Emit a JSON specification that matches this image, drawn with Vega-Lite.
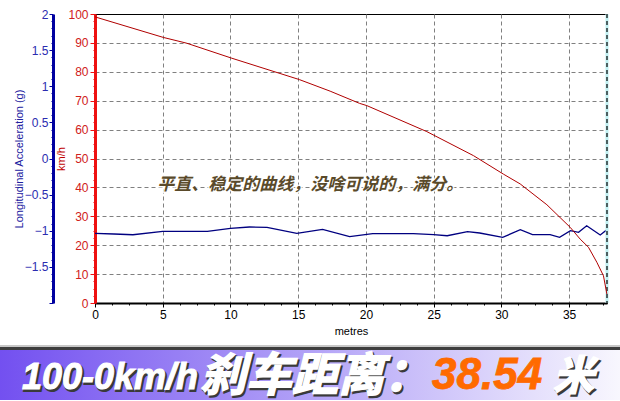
{
  "$schema": "https://vega.github.io/schema/vega-lite/v6.json",
  "background": "white",
  "padding": {"left": 0, "top": 7, "right": 0, "bottom": 0},
  "bounds": "flush",
  "spacing": 42,
  "config": {"view": {"stroke": null}, "font": "Liberation Sans"},
  "vconcat": [
    {
      "width": 512,
      "height": 289,
      "view": {"stroke": "#000000", "strokeWidth": 1},
      "encoding": {
        "x": {
          "field": "m",
          "type": "quantitative",
          "scale": {"domain": [0, 37.8], "nice": false, "zero": true},
          "axis": {
            "title": "metres",
            "titleFont": "Liberation Sans",
            "titleFontSize": 11,
            "titleFontWeight": "normal",
            "titleColor": "#000000",
            "titlePadding": 5,
            "values": [0, 1.25, 2.5, 3.75, 5, 6.25, 7.5, 8.75, 10, 11.25, 12.5, 13.75, 15, 16.25, 17.5, 18.75, 20, 21.25, 22.5, 23.75, 25, 26.25, 27.5, 28.75, 30, 31.25, 32.5, 33.75, 35, 36.25, 37.5],
            "format": "d",
            "labelExpr": "datum.value % 5 === 0 ? datum.label : ''",
            "labelFlush": false,
            "labelOverlap": false,
            "labelFont": "Liberation Sans",
            "labelFontSize": 12,
            "labelColor": "#000000",
            "labelPadding": 2,
            "domainColor": "#000000",
            "domainWidth": 2,
            "tickColor": "#000000",
            "tickSize": {"condition": {"test": "datum.value % 5 === 0", "value": 4}, "value": 2},
            "grid": true,
            "gridColor": "#808080",
            "gridDash": [4, 3],
            "gridWidth": 1,
            "gridOpacity": {"condition": {"test": "datum.value % 5 === 0 && datum.value > 0", "value": 1}, "value": 0}
          }
        }
      },
      "layer": [
        {
          "layer": [
            {
              "data": {
                "values": [
                  {"m": 0, "g": -1.035},
                  {"m": 1.4, "g": -1.045},
                  {"m": 2.8, "g": -1.055},
                  {"m": 5.0, "g": -1.008},
                  {"m": 8.3, "g": -1.008},
                  {"m": 10.0, "g": -0.966},
                  {"m": 11.4, "g": -0.948},
                  {"m": 12.7, "g": -0.952},
                  {"m": 14.9, "g": -1.035},
                  {"m": 16.8, "g": -0.98},
                  {"m": 18.8, "g": -1.08},
                  {"m": 20.5, "g": -1.041},
                  {"m": 23.5, "g": -1.041},
                  {"m": 25.0, "g": -1.055},
                  {"m": 26.0, "g": -1.069},
                  {"m": 27.5, "g": -1.013},
                  {"m": 28.4, "g": -1.031},
                  {"m": 30.1, "g": -1.091},
                  {"m": 31.4, "g": -0.986},
                  {"m": 32.3, "g": -1.055},
                  {"m": 33.6, "g": -1.055},
                  {"m": 34.3, "g": -1.091},
                  {"m": 35.1, "g": -0.999},
                  {"m": 35.7, "g": -1.022},
                  {"m": 36.3, "g": -0.93},
                  {"m": 37.3, "g": -1.059},
                  {"m": 37.7, "g": -0.999},
                  {"m": 37.8, "g": -1.022}
                ]
              },
              "mark": {"type": "line", "color": "#000080", "strokeWidth": 1.3},
              "encoding": {
                "y": {
                  "field": "g",
                  "type": "quantitative",
                  "scale": {"domain": [-2, 2], "nice": false, "zero": false},
                  "axis": {
                    "orient": "left",
                    "offset": 42,
                    "title": "Longitudinal Acceleration (g)",
                    "titleFont": "Liberation Sans",
                    "titleFontSize": 11,
                    "titleFontWeight": "normal",
                    "titleColor": "#2020a0",
                    "titlePadding": 0,
                    "values": [-2, -1.9, -1.8, -1.7, -1.6, -1.5, -1.4, -1.3, -1.2, -1.1, -1, -0.9, -0.8, -0.7, -0.6, -0.5, -0.4, -0.3, -0.2, -0.1, 0, 0.1, 0.2, 0.3, 0.4, 0.5, 0.6, 0.7, 0.8, 0.9, 1, 1.1, 1.2, 1.3, 1.4, 1.5, 1.6, 1.7, 1.8, 1.9, 2],
                    "format": "~g",
                    "labelExpr": "abs(datum.value * 2 - round(datum.value * 2)) < 0.001 && datum.value > -1.95 ? datum.label : ''",
                    "labelOverlap": false,
                    "labelFlush": false,
                    "labelFont": "Liberation Sans",
                    "labelFontSize": 12,
                    "labelColor": "#2b2bb0",
                    "labelPadding": 1,
                    "domainColor": "#0000a0",
                    "domainWidth": 3,
                    "tickColor": "#0000a0",
                    "tickSize": {"condition": {"test": "abs(datum.value * 2 - round(datum.value * 2)) < 0.001", "value": 4}, "value": 2},
                    "grid": false
                  }
                }
              }
            },
            {
              "data": {"values": [{"m": 37.8}]},
              "mark": {"type": "rule", "color": "#bff0f2", "strokeWidth": 3},
              "encoding": {}
            },
            {
              "data": {"values": [{"m": 37.8}]},
              "mark": {"type": "rule", "color": "#000000", "strokeWidth": 1.2, "strokeDash": [4, 3]},
              "encoding": {}
            }
          ]
        },
        {
          "encoding": {
            "y": {
              "field": "v",
              "type": "quantitative",
              "scale": {"domain": [0, 100], "nice": false},
              "axis": {
                "orient": "left",
                "title": "km/h",
                "titleFont": "Liberation Sans",
                "titleFontSize": 11,
                "titleFontWeight": "normal",
                "titleColor": "#c00000",
                "titlePadding": 1,
                "values": [0, 2.5, 5, 7.5, 10, 12.5, 15, 17.5, 20, 22.5, 25, 27.5, 30, 32.5, 35, 37.5, 40, 42.5, 45, 47.5, 50, 52.5, 55, 57.5, 60, 62.5, 65, 67.5, 70, 72.5, 75, 77.5, 80, 82.5, 85, 87.5, 90, 92.5, 95, 97.5, 100],
                "format": "d",
                "labelExpr": "datum.value % 10 === 0 ? datum.label : ''",
                "labelOverlap": false,
                "labelFlush": false,
                "labelFont": "Liberation Sans",
                "labelFontSize": 12,
                "labelColor": "#d02020",
                "labelPadding": 2,
                "domainColor": "#ee1111",
                "domainWidth": 3,
                "tickColor": "#ee1111",
                "tickSize": {"condition": {"test": "datum.value % 10 === 0", "value": 5}, "value": 2},
                "grid": true,
                "gridColor": "#808080",
                "gridDash": [4, 3],
                "gridWidth": 1,
                "gridOpacity": {"condition": {"test": "datum.value % 10 === 0 && datum.value > 0 && datum.value < 100", "value": 1}, "value": 0}
              }
            }
          },
          "layer": [
            {
              "data": {
                "values": [
                  {"m": 0, "v": 99.0},
                  {"m": 5.04, "v": 91.9},
                  {"m": 6.77, "v": 89.9},
                  {"m": 10.1, "v": 84.7},
                  {"m": 15.09, "v": 77.3},
                  {"m": 17.36, "v": 73.3},
                  {"m": 19.52, "v": 69.1},
                  {"m": 20.07, "v": 68.3},
                  {"m": 24.5, "v": 59.3},
                  {"m": 27.94, "v": 51.0},
                  {"m": 30.15, "v": 44.6},
                  {"m": 31.39, "v": 41.2},
                  {"m": 33.36, "v": 34.0},
                  {"m": 35.08, "v": 26.2},
                  {"m": 35.82, "v": 22.1},
                  {"m": 36.43, "v": 19.3},
                  {"m": 37.05, "v": 14.1},
                  {"m": 37.54, "v": 9.4},
                  {"m": 37.79, "v": 3.1}
                ]
              },
              "mark": {"type": "line", "color": "#b00000", "strokeWidth": 1}
            },
            {
              "data": {"values": [{"m": 4.6, "v": 40.8, "t": "平直、稳定的曲线，没啥可说的，满分。"}]},
              "mark": {"type": "text", "align": "left", "baseline": "middle", "font": "Noto Sans CJK SC", "fontSize": 17, "fontStyle": "italic", "fontWeight": "bold", "color": "#ffffff", "stroke": "#ffffff", "strokeWidth": 3, "strokeOpacity": 0.9},
              "encoding": {"text": {"field": "t"}}
            },
            {
              "data": {"values": [{"m": 4.6, "v": 40.8, "t": "平直、稳定的曲线，没啥可说的，满分。"}]},
              "mark": {"type": "text", "align": "left", "baseline": "middle", "font": "Noto Sans CJK SC", "fontSize": 17, "fontStyle": "italic", "fontWeight": "bold", "color": "#5a4a2a"},
              "encoding": {"text": {"field": "t"}}
            }
          ]
        }
      ],
      "resolve": {"scale": {"y": "independent"}}
    },
    {
      "width": 512,
      "height": 55,
      "view": {"stroke": null},
      "data": {"values": [{"a": "100-0km/h", "b": "刹车距离：", "c": "38.54", "d": "米"}]},
      "layer": [
        {
          "mark": {"type": "rect", "color": {"gradient": "linear", "stops": [{"offset": 0, "color": "#7350f0"}, {"offset": 0.5, "color": "#b2a2f7"}, {"offset": 1, "color": "#f8f7fe"}]}},
          "encoding": {
            "x": {"datum": 0, "type": "quantitative", "scale": {"domain": [95, 607], "nice": false, "zero": false}, "axis": null},
            "x2": {"datum": 620},
            "y": {"datum": 4, "type": "quantitative", "scale": {"domain": [0, 55], "reverse": true, "nice": false, "zero": false}, "axis": null},
            "y2": {"datum": 55}
          }
        },
        {
          "mark": {"type": "rect", "color": "#c8c8c8"},
          "encoding": {
            "x": {"datum": 0, "type": "quantitative"},
            "x2": {"datum": 620},
            "y": {"datum": 0, "type": "quantitative"},
            "y2": {"datum": 2}
          }
        },
        {
          "mark": {"type": "rect", "color": "#3e3e3e"},
          "encoding": {
            "x": {"datum": 0, "type": "quantitative"},
            "x2": {"datum": 620},
            "y": {"datum": 2, "type": "quantitative"},
            "y2": {"datum": 5}
          }
        },
        {
          "mark": {"type": "text", "align": "left", "baseline": "alphabetic", "font": "Liberation Sans", "fontSize": 36, "fontStyle": "italic", "fontWeight": "bold", "color": "#3a3a3a", "stroke": "#3a3a3a", "strokeWidth": 2, "dx": 1.5, "dy": 1.5},
          "encoding": {"x": {"datum": 22, "type": "quantitative"}, "y": {"datum": 44, "type": "quantitative"}, "text": {"field": "a"}}
        },
        {
          "mark": {"type": "text", "align": "left", "baseline": "alphabetic", "font": "Liberation Sans", "fontSize": 36, "fontStyle": "italic", "fontWeight": "bold", "color": "#ffffff", "stroke": "#ffffff", "strokeWidth": 1},
          "encoding": {"x": {"datum": 22, "type": "quantitative"}, "y": {"datum": 44, "type": "quantitative"}, "text": {"field": "a"}}
        },
        {
          "mark": {"type": "text", "align": "left", "baseline": "alphabetic", "font": "Noto Sans CJK SC", "fontSize": 46, "fontStyle": "italic", "fontWeight": "bold", "color": "#3a3a3a", "stroke": "#3a3a3a", "strokeWidth": 2, "dx": 1.5, "dy": 1.5},
          "encoding": {"x": {"datum": 200, "type": "quantitative"}, "y": {"datum": 46, "type": "quantitative"}, "text": {"field": "b"}}
        },
        {
          "mark": {"type": "text", "align": "left", "baseline": "alphabetic", "font": "Noto Sans CJK SC", "fontSize": 46, "fontStyle": "italic", "fontWeight": "bold", "color": "#ffffff", "stroke": "#ffffff", "strokeWidth": 1.5},
          "encoding": {"x": {"datum": 200, "type": "quantitative"}, "y": {"datum": 46, "type": "quantitative"}, "text": {"field": "b"}}
        },
        {
          "mark": {"type": "text", "align": "left", "baseline": "alphabetic", "font": "Liberation Sans", "fontSize": 44, "fontStyle": "italic", "fontWeight": "bold", "color": "#ff6a00", "stroke": "#ff6a00", "strokeWidth": 0.8},
          "encoding": {"x": {"datum": 432, "type": "quantitative"}, "y": {"datum": 44, "type": "quantitative"}, "text": {"field": "c"}}
        },
        {
          "mark": {"type": "text", "align": "left", "baseline": "alphabetic", "font": "Noto Sans CJK SC", "fontSize": 41, "fontStyle": "italic", "fontWeight": "bold", "color": "#3a3a3a", "stroke": "#3a3a3a", "strokeWidth": 2, "dx": 1.5, "dy": 1.5},
          "encoding": {"x": {"datum": 553, "type": "quantitative"}, "y": {"datum": 45, "type": "quantitative"}, "text": {"field": "d"}}
        },
        {
          "mark": {"type": "text", "align": "left", "baseline": "alphabetic", "font": "Noto Sans CJK SC", "fontSize": 41, "fontStyle": "italic", "fontWeight": "bold", "color": "#ffffff", "stroke": "#ffffff", "strokeWidth": 1.5},
          "encoding": {"x": {"datum": 553, "type": "quantitative"}, "y": {"datum": 45, "type": "quantitative"}, "text": {"field": "d"}}
        }
      ]
    }
  ]
}
